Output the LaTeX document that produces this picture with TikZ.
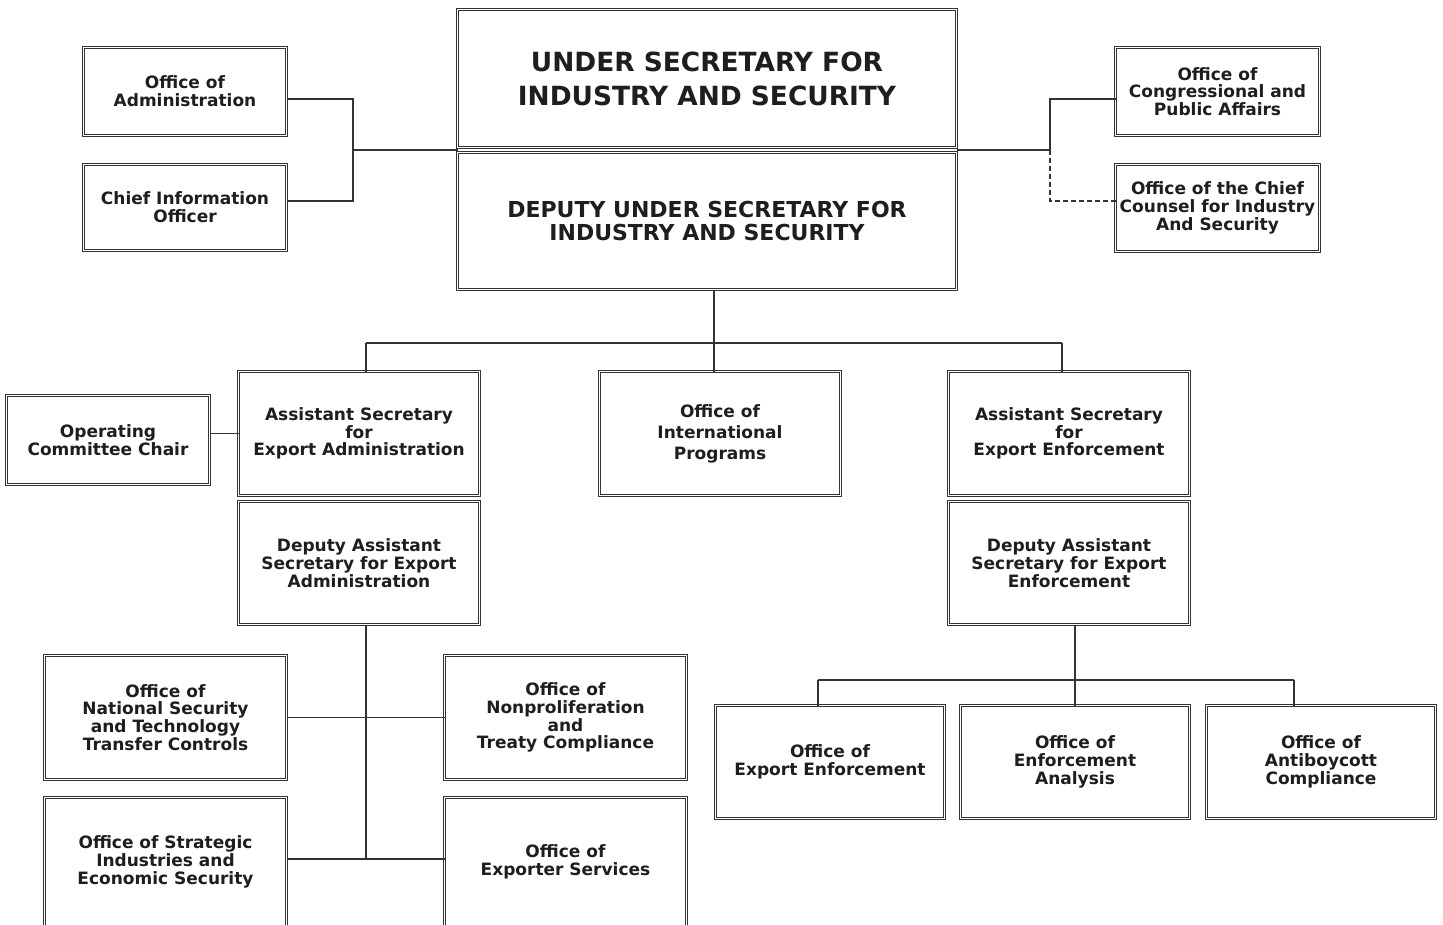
\documentclass[tikz,border=0pt]{standalone}
\usepackage{fontspec}
\setmainfont{DejaVu Sans}
\definecolor{lc}{HTML}{333333}
\definecolor{tc}{HTML}{1E1E1E}
\begin{document}
\begin{tikzpicture}[x=1pt,y=-1pt,
  box/.style={draw=lc, double=white, double distance=1.6pt, line width=0.9pt,
    inner sep=0pt, outer sep=0pt, align=center, text=tc,
    font=\fontsize{17}{17.8}\selectfont\bfseries},
  conn/.style={draw=lc, line width=1.1pt}]
\useasboundingbox[fill=white] (0,0) rectangle (1443,924);
% top
\node[box, minimum width=499, minimum height=138, font=\fontsize{26.4}{34}\selectfont\bfseries] (us) at (707,78.5) {UNDER SECRETARY FOR\\INDUSTRY AND SECURITY};
\node[box, minimum width=499, minimum height=137, font=\fontsize{22}{23}\selectfont\bfseries] (dus) at (707,221) {DEPUTY UNDER SECRETARY FOR\\INDUSTRY AND SECURITY};
\node[box, minimum width=203, minimum height=88] (oa) at (185,91.5) {Office of\\Administration};
\node[box, minimum width=203, minimum height=86] (cio) at (185,207.5) {Chief Information\\Officer};
\node[box, minimum width=204, minimum height=88] (ocpa) at (1217.5,91.5) {Office of\\Congressional and\\Public Affairs};
\node[box, minimum width=204, minimum height=87] (occ) at (1217.5,208) {Office of the Chief\\Counsel for Industry\\And Security};
% middle
\node[box, minimum width=203, minimum height=89] (occh) at (108,440) {Operating\\Committee Chair};
\node[box, minimum width=241, minimum height=124] (asea) at (359,433.5) {Assistant Secretary\\for\\Export Administration};
\node[box, minimum width=241, minimum height=123] (dasea) at (359,563) {Deputy Assistant\\Secretary for Export\\Administration};
\node[box, minimum width=241, minimum height=124, font=\fontsize{17}{21}\selectfont\bfseries] (oip) at (720,433.5) {Office of\\International\\Programs};
\node[box, minimum width=241, minimum height=124] (asee) at (1069,433.5) {Assistant Secretary\\for\\Export Enforcement};
\node[box, minimum width=241, minimum height=123] (dasee) at (1069,563) {Deputy Assistant\\Secretary for Export\\Enforcement};
% bottom left
\node[box, minimum width=242, minimum height=124] (onstc) at (165.5,717.5) {Office of\\National Security\\and Technology\\Transfer Controls};
\node[box, minimum width=242, minimum height=124] (onptc) at (565.5,717.5) {Office of\\Nonproliferation\\and\\Treaty Compliance};
\node[box, minimum width=242, minimum height=129] (osies) at (165.5,862) {Office of Strategic\\Industries and\\Economic Security};
\node[box, minimum width=242, minimum height=129] (oes) at (565.5,862) {Office of\\Exporter Services};
% bottom right
\node[box, minimum width=229, minimum height=113] (oee) at (830,762) {Office of\\Export Enforcement};
\node[box, minimum width=229, minimum height=113] (oea) at (1075,762) {Office of\\Enforcement\\Analysis};
\node[box, minimum width=229, minimum height=113] (oac) at (1321,762) {Office of\\Antiboycott\\Compliance};
% connectors top
\coordinate (ya) at (0,99);
\coordinate (yb) at (0,201);
\coordinate (lj) at (353,150);
\coordinate (rj) at (1050,150);
\draw[conn] (oa.east |- ya) -| (lj) |- (cio.east |- yb);
\draw[conn] (lj) -- (us.south west |- lj);
\draw[conn] (us.south east |- rj) -- (rj) |- (ocpa.west |- ya);
\draw[conn, dashed, dash pattern=on 5pt off 3pt] (rj) |- (occ.west |- yb);
% to second level
\coordinate (j1) at (714,343);
\coordinate (j1l) at (366,343);
\coordinate (j1r) at (1062,343);
\draw[conn] (dus.south -| j1) -- (j1);
\draw[conn] (j1l) -- (j1r);
\draw[conn] (j1l) -- (asea.north -| j1l);
\draw[conn] (j1) -- (oip.north -| j1);
\draw[conn] (j1r) -- (asee.north -| j1r);
\draw[conn] (occh.east |- asea.west) -- (asea.west);
% export administration tree
\coordinate (j2) at (366,859);
\draw[conn] (dasea.south -| j2) -- (j2);
\draw[conn] (onstc.east) -- (onptc.west);
\draw[conn] (osies.east |- j2) -- (oes.west |- j2);
% export enforcement tree
\coordinate (j3) at (1075,680);
\coordinate (j3l) at (818,680);
\coordinate (j3r) at (1294,680);
\draw[conn] (dasee.south -| j3) -- (j3);
\draw[conn] (j3l) -- (j3r);
\draw[conn] (j3l) -- (oee.north -| j3l);
\draw[conn] (j3) -- (oea.north);
\draw[conn] (j3r) -- (oac.north -| j3r);
\end{tikzpicture}
\end{document}
